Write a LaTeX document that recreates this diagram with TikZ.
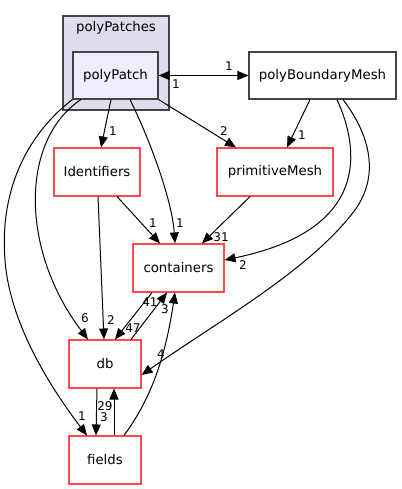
\documentclass[tikz,border=0pt]{standalone}
\usepackage{fontspec}
\setmainfont{DejaVu Sans}
\usetikzlibrary{arrows.meta}

\definecolor{clusterfill}{HTML}{DDDDEE}
\definecolor{dirfill}{HTML}{EEEEFF}
\definecolor{dirline}{HTML}{444444}
\definecolor{depred}{HTML}{FF4A4A}

\tikzset{
	dirbox/.style={draw=dirline, line width=1.1pt, rectangle, inner sep=0pt, font=\fontsize{13.3}{15}\selectfont},
	redbox/.style={dirbox, draw=depred},
	dep/.style={line width=1pt, -{Triangle[length=11pt,width=9pt]}},
	lbl/.style={font=\fontsize{12}{13}\selectfont, inner sep=0pt}
}

\begin{document}
\begin{tikzpicture}[x=1pt, y=-1pt]
			\useasboundingbox (0,0) rectangle (401,489);
			
			% cluster polyPatches
			\draw[dirline, fill=clusterfill, line width=1.1pt] (63,16) rectangle (169,110);
			\node[font=\fontsize{13.3}{15}\selectfont] (clusterlabel) at (116,28) {polyPatches};
			
			% directories
			\node[dirbox, fill=dirfill, minimum width=85pt, minimum height=47pt] (polyPatch) at (115.5,75.5) {polyPatch};
			\node[dirbox, fill=white, minimum width=147pt, minimum height=47pt] (polyBoundaryMesh) at (322.5,75.5) {polyBoundaryMesh};
			\node[redbox, minimum width=86pt, minimum height=48pt] (Identifiers) at (97,172) {Identifiers};
			\node[redbox, minimum width=116pt, minimum height=48pt] (primitiveMesh) at (275,172) {primitiveMesh};
			\node[redbox, minimum width=91pt, minimum height=48pt] (containers) at (178.5,268) {containers};
			\node[redbox, minimum width=72pt, minimum height=48pt] (db) at (105,364) {db};
			\node[redbox, minimum width=72pt, minimum height=48pt] (fields) at (105,460) {fields};
			
			% edges from polyPatch
			\draw[dep, {Triangle[length=11pt,width=9pt]}-{Triangle[length=11pt,width=9pt]}] (polyPatch.east) -- (polyBoundaryMesh.west);
			\draw[dep] ([xshift=-4.5pt]polyPatch.south) -- ([xshift=4pt]Identifiers.north);
			\draw[dep] (polyPatch.south east) -- ([xshift=-39pt]primitiveMesh.north);
			\draw[dep] ([xshift=14.5pt]polyPatch.south) .. controls (150,140) and (172,200) .. ([xshift=-3.5pt]containers.north);
			\draw[dep] ([xshift=-34.5pt]polyPatch.south) .. controls (20,140) and (20,250) .. ([xshift=-17pt]db.north);
			\draw[dep] (polyPatch.south west) .. controls (20,140) and (0,200) .. (5,260) .. controls (10,330) and (60,400) .. ([xshift=-18pt]fields.north);
			
			% edges from polyBoundaryMesh
			\draw[dep] ([xshift=-12.5pt]polyBoundaryMesh.south) -- ([xshift=12pt]primitiveMesh.north);
			\draw[dep] ([xshift=14.5pt]polyBoundaryMesh.south) .. controls (360,150) and (370,230) .. ([yshift=8pt]containers.east);
			\draw[dep] ([xshift=20.5pt]polyBoundaryMesh.south) .. controls (370,135) and (380,175) .. (355,210) .. controls (310,270) and (220,320) .. ([yshift=-11pt]db.east);
			
			% remaining edges
			\draw[dep] ([xshift=20pt]Identifiers.south) -- ([xshift=-18.5pt]containers.north);
			\draw[dep] ([xshift=1pt]Identifiers.south) -- ([xshift=-1pt]db.north);
			\draw[dep] ([xshift=-25pt]primitiveMesh.south) -- ([xshift=23.5pt]containers.north);
			\draw[dep] ([xshift=-26.5pt]containers.south) -- ([xshift=10pt]db.north);
			\draw[dep] ([xshift=26pt]db.north) -- ([xshift=-11.5pt]containers.south);
			\draw[dep] ([xshift=19pt]fields.north) .. controls (150,400) and (165,360) .. ([xshift=-3.5pt]containers.south);
			\draw[dep] ([xshift=-8pt]db.south) -- ([xshift=-9pt]fields.north);
			\draw[dep] ([xshift=9pt]fields.north) -- ([xshift=9pt]db.south);
			
			% edge labels
			\node[lbl] at (229,66) {1};
			\node[lbl] at (176,84) {1};
			\node[lbl] at (113,131) {1};
			\node[lbl] at (224,131) {2};
			\node[lbl] at (180,223) {1};
			\node[lbl] at (85,318) {6};
			\node[lbl] at (82,416) {1};
			\node[lbl] at (302,135) {1};
			\node[lbl] at (243,265) {2};
			\node[lbl] at (161,354) {4};
			\node[lbl] at (153,223) {1};
			\node[lbl] at (111,320) {2};
			\node[lbl] at (221,237) {31};
			\node[lbl] at (133,328) {47};
			\node[lbl] at (150,302) {41};
			\node[lbl] at (165,309) {3};
			\node[lbl] at (105,406) {29};
			\node[lbl] at (104,417) {3};
\end{tikzpicture}
\end{document}
